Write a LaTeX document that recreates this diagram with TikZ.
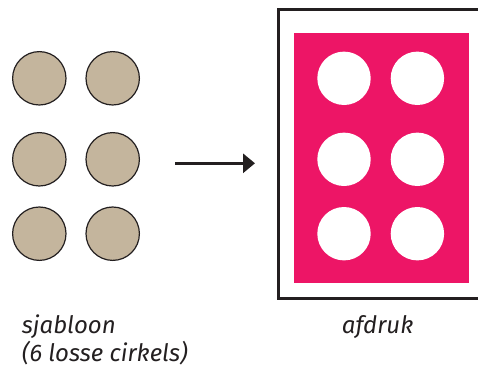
\documentclass[tikz,border=0pt]{standalone}
\usepackage{fontspec}
\setmainfont{Fira Sans}
\usetikzlibrary{arrows.meta, positioning}
\definecolor{inkt}{HTML}{231F20}
\definecolor{zand}{HTML}{C4B59D}
\definecolor{roze}{HTML}{ED1566}
\tikzstyle{gat} = [circle, minimum size=53.4pt, inner sep=0pt, outer sep=0pt, line width=1.2pt, draw=inkt, fill=zand]
\tikzstyle{wit} = [circle, minimum size=53.4pt, inner sep=0pt, outer sep=0pt, fill=white]
\tikzstyle{arrow} = [line width=3pt, draw=inkt, -{Triangle[length=12pt, width=19pt]}]
\tikzstyle{bijschrift} = [font=\itshape\fontsize{24}{28.4}\selectfont, text=inkt, inner sep=0pt, align=left]

\begin{document}
\begin{tikzpicture}[x=1pt, y=-1pt]
		\useasboundingbox (0,0) rectangle (478,369);
		% sjabloon
		\node (S1) [gat] at (39.3,78.3) {};
		\node (S2) [gat, right = 20pt of S1] {};
		\node (S3) [gat, below = 27.6pt of S1] {};
		\node (S4) [gat, right = 20pt of S3] {};
		\node (S5) [gat, below = 21pt of S3] {};
		\node (S6) [gat, right = 20pt of S5] {};
		% afdruk
		\draw [line width=3pt, draw=inkt] (278.3,9.9) rectangle (482,298.3);
		\node (Vel) [fill=roze, inner sep=0pt, minimum width=174.3pt, minimum height=249.4pt, anchor=north west] at (294,33.3) {};
		\node (A1) [wit] at (344,78.3) {};
		\node (A2) [wit, right = 20pt of A1] {};
		\node (A3) [wit, below = 27.6pt of A1] {};
		\node (A4) [wit, right = 20pt of A3] {};
		\node (A5) [wit, below = 21pt of A3] {};
		\node (A6) [wit, right = 20pt of A5] {};
		% pijl
		\coordinate (Van) at (175,163.3);
		\coordinate (Naar) at (255,163.3);
		\draw [arrow] (Van) -- (Naar);
		% teksten
		\node (Sjabloon) [bijschrift, anchor=base west] at (21.7,361.7) {sjabloon\\(6 losse cirkels)};
		\node (Afdruk) [bijschrift, anchor=base west] at (341.7,333.3) {afdruk};
		\end{tikzpicture}
\end{document}
